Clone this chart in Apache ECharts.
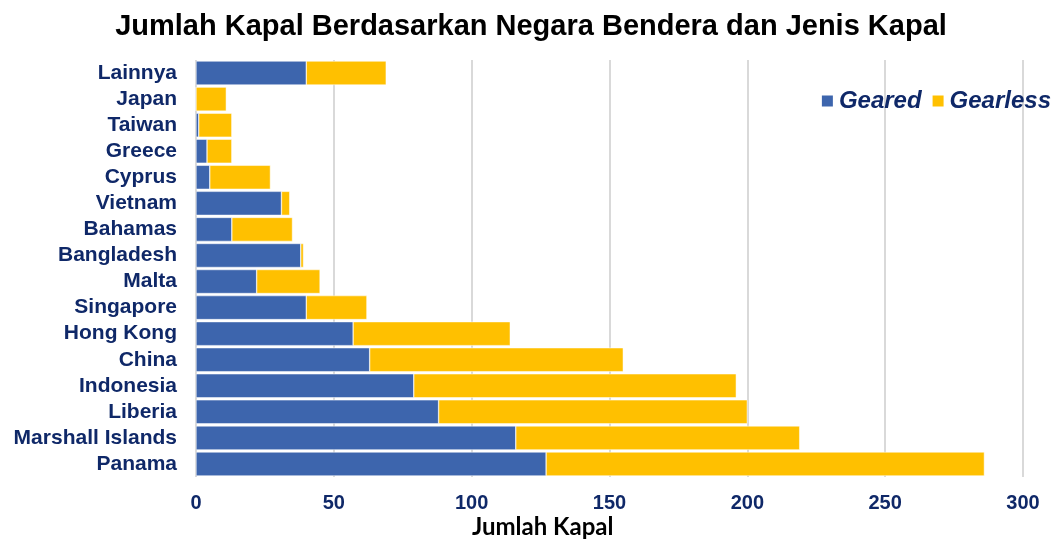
<!DOCTYPE html>
<html>
<head>
<meta charset="utf-8">
<script src="https://cdn.jsdelivr.net/npm/echarts@6/dist/echarts.min.js"></script>
<style>
  html, body { margin: 0; padding: 0; background: #fff; }
  #chart { width: 1062px; height: 544px; }
</style>
</head>
<body>
<div id="chart"></div>
<script>
// countries, top to bottom
var countries = ['Lainnya', 'Japan', 'Taiwan', 'Greece', 'Cyprus', 'Vietnam', 'Bahamas', 'Bangladesh',
    'Malta', 'Singapore', 'Hong Kong', 'China', 'Indonesia', 'Liberia', 'Marshall Islands', 'Panama'];
var geared = [40, 0, 1, 4, 5, 31, 13, 38, 22, 40, 57, 63, 79, 88, 116, 127];
var gearless = [29, 11, 12, 9, 22, 3, 22, 1, 23, 22, 57, 92, 117, 112, 103, 159];
var xTicks = [0, 50, 100, 150, 200, 250, 300];

var labelColor = '#0f2868';
var font = '"Liberation Sans", Arial, sans-serif';

var myChart = echarts.init(document.getElementById('chart'));
myChart.setOption({
    animation: false,
    textStyle: { fontFamily: font },
    title: {
        text: 'Jumlah Kapal Berdasarkan Negara Bendera dan Jenis Kapal',
        left: 'center',
        top: 7,
        textStyle: { fontSize: 29, fontWeight: 'bold', color: '#000', fontFamily: font }
    },
    legend: {
        right: 6,
        top: 84,
        itemWidth: 13,
        itemHeight: 13,
        itemGap: 9,
        icon: 'rect',
        textStyle: { fontSize: 24, fontWeight: 'bold', fontStyle: 'italic', color: labelColor, fontFamily: font },
        data: ['Geared', 'Gearless']
    },
    grid: { left: 196, right: 39, top: 60, bottom: 67 },
    // axis title sits left of the plot centre in the original
    graphic: [{
        type: 'text',
        left: 472,
        top: 515,
        style: {
            text: 'Jumlah Kapal',
            fill: '#000',
            font: 'bold 24px Lato, "Open Sans", sans-serif'
        }
    }],
    xAxis: {
        type: 'value',
        min: xTicks[0],
        max: xTicks[xTicks.length - 1],
        interval: 50,
        axisLine: { show: false },
        axisTick: { show: false },
        axisLabel: { fontSize: 20, fontWeight: 'bold', color: labelColor, margin: 16 },
        splitLine: { lineStyle: { color: '#d9d9d9', width: 2 } }
    },
    yAxis: {
        type: 'category',
        inverse: true,
        data: countries,
        axisLine: { show: false },
        axisTick: { show: false },
        axisLabel: { interval: 0, fontSize: 21, fontWeight: 'bold', color: labelColor, margin: 19 }
    },
    series: [{
        name: 'Geared',
        type: 'bar',
        stack: 'total',
        barCategoryGap: '8%',
        itemStyle: { color: '#3d65ad', borderColor: '#fff', borderWidth: 0.5 },
        data: geared
    }, {
        name: 'Gearless',
        type: 'bar',
        stack: 'total',
        barCategoryGap: '8%',
        itemStyle: { color: '#ffc000', borderColor: '#fff', borderWidth: 0.5 },
        data: gearless
    }]
});
</script>
</body>
</html>
